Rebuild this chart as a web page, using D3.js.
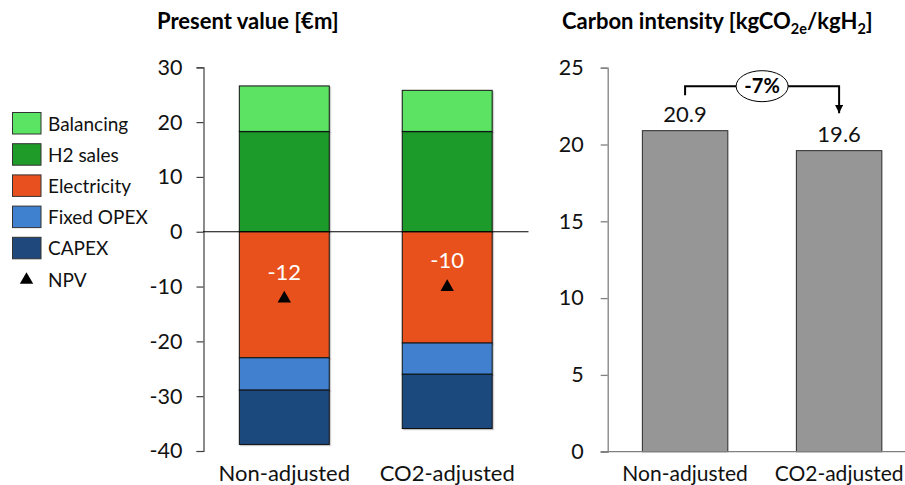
<!DOCTYPE html>
<html>
<head>
<meta charset="utf-8">
<script src="https://cdn.jsdelivr.net/npm/d3@7"></script>
<style>
  html, body { margin: 0; padding: 0; background: #fff; }
  svg { display: block; font-family: Lato, "Open Sans", sans-serif; }
</style>
</head>
<body>
<svg id="chart" width="905" height="485"></svg>
<script>
// ---- Data ----
const scenarios = ["Non-adjusted", "CO2-adjusted"];
const balancing = [8.3, 7.5];
const h2Sales = [18.3, 18.3];
const electricity = [-23.0, -20.3];
const fixedOpex = [-5.9, -5.7];
const capex = [-9.9, -9.9];
const pvTicks = [-40, -30, -20, -10, 0, 10, 20, 30];

const carbonIntensity = [20.9, 19.6];
const ciTicks = [0, 5, 10, 15, 20, 25];
const ciChangeLabel = "-7%";

// plain hyphen for negative numbers
const fmtInt = v => d3.format(".0f")(v).replace("\u2212", "-");
const fmt1 = v => d3.format(".1f")(v).replace("\u2212", "-");

// ---- Components (stack order: positives upward, negatives downward) ----
const components = [
  { key: "H2 sales", values: h2Sales, color: "#1f9b29" },
  { key: "Balancing", values: balancing, color: "#5be364" },
  { key: "Electricity", values: electricity, color: "#e8511f" },
  { key: "Fixed OPEX", values: fixedOpex, color: "#3f80cf" },
  { key: "CAPEX", values: capex, color: "#1f497d" }
];
const legendOrder = ["Balancing", "H2 sales", "Electricity", "Fixed OPEX", "CAPEX"];

const rows = scenarios.map((s, i) => {
  const r = { scenario: s };
  components.forEach(c => { r[c.key] = c.values[i]; });
  return r;
});
const npv = scenarios.map((s, i) => d3.sum(components, c => c.values[i]));

const svg = d3.select("#chart");
const defs = svg.append("defs");
const shadow = defs.append("filter").attr("id", "barShadow")
  .attr("x", "-10%").attr("y", "-10%").attr("width", "130%").attr("height", "130%");
shadow.append("feDropShadow").attr("dx", 1.2).attr("dy", 1.2)
  .attr("stdDeviation", 0.6).attr("flood-color", "#000").attr("flood-opacity", 0.22);

// ===== Left panel: present value =====
const yL = d3.scaleLinear().domain([-40, 30]).range([451, 67.3]);
const xL = d3.scaleBand().domain(scenarios).range([203, 528.5])
  .paddingInner(0.448).paddingOuter(0.223);

svg.append("text")
  .attr("x", 157).attr("y", 29)
  .attr("font-size", 22).attr("font-weight", 700).attr("fill", "#000")
  .text("Present value [€m]");

const series = d3.stack()
  .keys(components.map(c => c.key))
  .offset(d3.stackOffsetDiverging)(rows);
const colorOf = Object.fromEntries(components.map(c => [c.key, c.color]));

const left = svg.append("g");
left.selectAll("g.layer")
  .data(series)
  .join("g")
  .attr("class", "layer")
  .attr("fill", d => colorOf[d.key])
  .selectAll("rect")
  .data(d => d)
  .join("rect")
  .attr("x", d => xL(d.data.scenario))
  .attr("width", xL.bandwidth())
  .attr("y", d => yL(Math.max(d[0], d[1])))
  .attr("height", d => Math.abs(yL(d[0]) - yL(d[1])))
  .attr("stroke", "#111")
  .attr("stroke-width", 1)
  .attr("filter", "url(#barShadow)");

// y axis
const axisL = svg.append("g")
  .attr("transform", "translate(203.5,0)")
  .call(d3.axisLeft(yL).tickValues(pvTicks).tickSize(7).tickPadding(14).tickFormat(fmtInt));
axisL.select(".domain").attr("stroke", "#404040").attr("stroke-width", 1.2);
axisL.selectAll(".tick line").attr("stroke", "#404040").attr("stroke-width", 1.2);
axisL.selectAll(".tick text").attr("font-size", 21.5).attr("fill", "#111")
  .attr("font-family", "Lato, sans-serif");

// zero line
svg.append("line")
  .attr("x1", 203).attr("x2", 528.5)
  .attr("y1", yL(0)).attr("y2", yL(0))
  .attr("stroke", "#000").attr("stroke-width", 1.2);

// category labels
svg.append("g").selectAll("text")
  .data(scenarios)
  .join("text")
  .attr("x", d => xL(d) + xL.bandwidth() / 2)
  .attr("y", 481)
  .attr("text-anchor", "middle")
  .attr("font-size", 22).attr("fill", "#111")
  .text(d => d);

// NPV markers and labels
const tri = d3.symbol().type(d3.symbolTriangle).size(78);
svg.append("g").selectAll("path")
  .data(npv)
  .join("path")
  .attr("d", tri)
  .attr("fill", "#000")
  .attr("transform", (d, i) => `translate(${xL(scenarios[i]) + xL.bandwidth() / 2},${yL(d)})`);
svg.append("g").selectAll("text")
  .data(npv)
  .join("text")
  .attr("x", (d, i) => xL(scenarios[i]) + xL.bandwidth() / 2)
  .attr("y", d => yL(d) - 19)
  .attr("text-anchor", "middle")
  .attr("font-size", 22).attr("fill", "#fff")
  .text(d => fmtInt(d));

// legend
const legend = svg.append("g");
legendOrder.forEach((k, i) => {
  const y = 112.5 + i * 31.2;
  legend.append("rect")
    .attr("x", 12.5).attr("y", y).attr("width", 28.5).attr("height", 21.5)
    .attr("fill", colorOf[k]).attr("stroke", "#333").attr("stroke-width", 1);
  legend.append("text")
    .attr("x", 48).attr("y", y + 18)
    .attr("font-size", 19).attr("fill", "#111")
    .text(k);
});
legend.append("path")
  .attr("d", tri)
  .attr("fill", "#000")
  .attr("transform", "translate(26.5,280)");
legend.append("text")
  .attr("x", 48).attr("y", 287)
  .attr("font-size", 19).attr("fill", "#111")
  .text("NPV");

// ===== Right panel: carbon intensity =====
const yR = d3.scaleLinear().domain([0, 25]).range([451.7, 67.7]);
const xR = d3.scaleBand().domain(scenarios).range([607.7, 916.5])
  .paddingInner(0.445).paddingOuter(0.225);

const title2 = svg.append("text")
  .attr("x", 562).attr("y", 29)
  .attr("font-size", 22).attr("font-weight", 700).attr("fill", "#000");
title2.append("tspan").text("Carbon intensity [kgCO");
title2.append("tspan").attr("font-size", 14.5).attr("dy", 5).text("2e");
title2.append("tspan").attr("dy", -5).text("/kgH");
title2.append("tspan").attr("font-size", 14.5).attr("dy", 5).text("2");
title2.append("tspan").attr("dy", -5).text("]");

svg.append("g").selectAll("rect")
  .data(carbonIntensity)
  .join("rect")
  .attr("x", (d, i) => xR(scenarios[i]))
  .attr("width", xR.bandwidth())
  .attr("y", d => yR(d))
  .attr("height", d => yR(0) - yR(d))
  .attr("fill", "#969696")
  .attr("stroke", "#2a2a2a").attr("stroke-width", 1);

const axisR = svg.append("g")
  .attr("transform", "translate(607.7,0)")
  .call(d3.axisLeft(yR).tickValues(ciTicks).tickSize(7).tickPadding(17).tickFormat(fmtInt));
axisR.select(".domain").attr("stroke", "#808080").attr("stroke-width", 1.3);
axisR.selectAll(".tick line").attr("stroke", "#808080").attr("stroke-width", 1.3);
axisR.selectAll(".tick text").attr("font-size", 21.5).attr("fill", "#111")
  .attr("font-family", "Lato, sans-serif");

svg.append("line")
  .attr("x1", 600.7).attr("x2", 905)
  .attr("y1", yR(0)).attr("y2", yR(0))
  .attr("stroke", "#808080").attr("stroke-width", 1.3);

svg.append("g").selectAll("text.val")
  .data(carbonIntensity)
  .join("text")
  .attr("class", "val")
  .attr("x", (d, i) => xR(scenarios[i]) + xR.bandwidth() / 2)
  .attr("y", d => yR(d) - 9)
  .attr("text-anchor", "middle")
  .attr("font-size", 22).attr("fill", "#111")
  .text(d => fmt1(d));

svg.append("g").selectAll("text.cat")
  .data(scenarios)
  .join("text")
  .attr("class", "cat")
  .attr("x", d => xR(d) + xR.bandwidth() / 2)
  .attr("y", 481)
  .attr("text-anchor", "middle")
  .attr("font-size", 21).attr("fill", "#111")
  .text(d => d);

// change bracket with arrow
const cx0 = xR(scenarios[0]) + xR.bandwidth() / 2;
const cx1 = xR(scenarios[1]) + xR.bandwidth() / 2;
const bracketY = yR(d3.max(carbonIntensity)) - 44.5;
const stubY = yR(carbonIntensity[0]) - 35.5;
const tipY = yR(carbonIntensity[1]) - 37.5;
defs.append("marker").attr("id", "arrowHead")
  .attr("viewBox", "0 0 10 10").attr("refX", 10).attr("refY", 5)
  .attr("markerWidth", 4.2).attr("markerHeight", 4.2).attr("markerUnits", "strokeWidth")
  .attr("orient", "auto")
  .append("path").attr("d", "M0,0L10,5L0,10Z").attr("fill", "#000");
svg.append("path")
  .attr("d", `M${cx0},${stubY}V${bracketY}H${cx1}V${tipY}`)
  .attr("fill", "none").attr("stroke", "#000").attr("stroke-width", 2)
  .attr("marker-end", "url(#arrowHead)");
const midX = (cx0 + cx1) / 2;
svg.append("ellipse")
  .attr("cx", midX).attr("cy", bracketY)
  .attr("rx", 26).attr("ry", 15.5)
  .attr("fill", "#fff").attr("stroke", "#000").attr("stroke-width", 1);
svg.append("text")
  .attr("x", midX).attr("y", bracketY + 7)
  .attr("text-anchor", "middle")
  .attr("font-size", 20).attr("font-weight", 700).attr("fill", "#000")
  .text(ciChangeLabel);
</script>
</body>
</html>
